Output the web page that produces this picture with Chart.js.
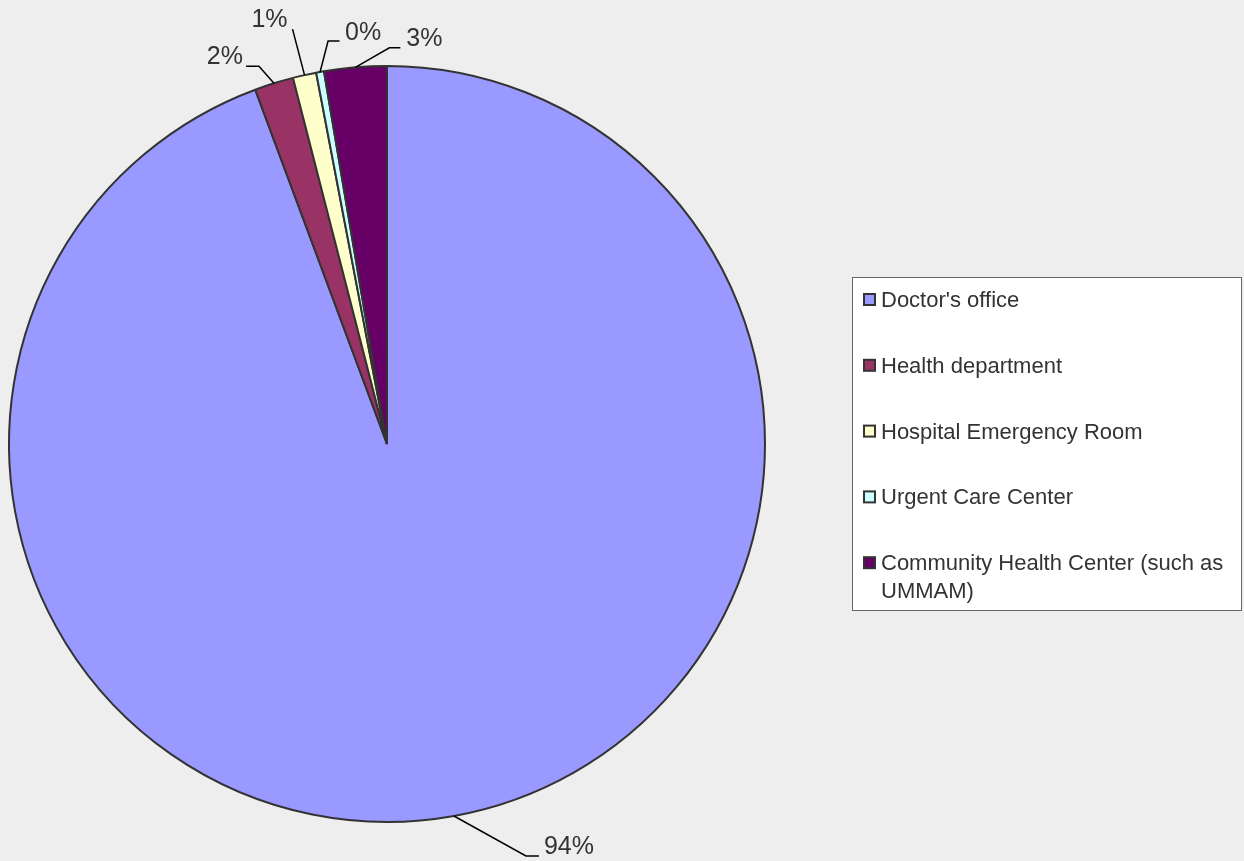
<!DOCTYPE html>
<html>
<head>
<meta charset="utf-8">
<script src="https://cdn.jsdelivr.net/npm/chart.js@4/dist/chart.umd.min.js"></script>
<style>
  body { margin: 0; background: #eeeeee; }
  #wrap { width: 1244px; height: 861px; position: relative; }
</style>
</head>
<body>
<div id="wrap"><canvas id="grafico"></canvas></div>
<script>
// dados
let categorias = ["Doctor's office", "Health department", "Hospital Emergency Room", "Urgent Care Center", "Community Health Center (such as UMMAM)"];
let respostas = [283, 5, 3, 1, 8];
let cores = ['#9999ff', '#993366', '#ffffcc', '#ccffff', '#660066'];

// posicao dos rotulos em relacao ao meio do arco: [dobra, fim da linha, texto, alinhamento]
let rotulos = [
    { dobra: [72, 40], fim: [85, 40], texto: [90, 31], alinha: 'left' },
    { dobra: [-15, -17], fim: [-28, -17], texto: [-31, -26], alinha: 'right' },
    { dobra: null, fim: [-12, -46], texto: [-17, -55], alinha: 'right' },
    { dobra: [8, -31], fim: [19.5, -31], texto: [25, -39], alinha: 'left' },
    { dobra: [34, -19.5], fim: [45, -19.5], texto: [51, -28], alinha: 'left' }
];

const fonte = '"Liberation Sans", Arial, sans-serif';

// rotulos de porcentagem com linhas de chamada
const pluginRotulos = {
    id: 'rotulos',
    afterDatasetsDraw(chart) {
        let ctx = chart.ctx;
        let total = respostas.reduce((a, b) => a + b, 0);
        let arcos = chart.getDatasetMeta(0).data;
        ctx.save();
        arcos.forEach((arco, i) => {
            let p = arco.getProps(['x', 'y', 'startAngle', 'endAngle', 'outerRadius'], true);
            let meio = (p.startAngle + p.endAngle) / 2;
            let mx = p.x + Math.cos(meio) * p.outerRadius;
            let my = p.y + Math.sin(meio) * p.outerRadius;
            let r = rotulos[i];
            ctx.strokeStyle = '#000';
            ctx.lineWidth = 1.5;
            ctx.beginPath();
            ctx.moveTo(mx, my);
            if (r.dobra) ctx.lineTo(mx + r.dobra[0], my + r.dobra[1]);
            ctx.lineTo(mx + r.fim[0], my + r.fim[1]);
            ctx.stroke();
            let pct = Math.round(respostas[i] / total * 100) + '%';
            ctx.fillStyle = '#333';
            ctx.font = '25px ' + fonte;
            ctx.textAlign = r.alinha;
            ctx.textBaseline = 'middle';
            ctx.fillText(pct, mx + r.texto[0], my + r.texto[1]);
        });
        ctx.restore();
    }
};

// legenda em caixa
const pluginLegenda = {
    id: 'legendaCaixa',
    afterDraw(chart) {
        let ctx = chart.ctx;
        let x0 = 852.5, y0 = 277.5, w = 389, h = 333;
        ctx.save();
        ctx.fillStyle = '#ffffff';
        ctx.fillRect(x0, y0, w, h);
        ctx.strokeStyle = '#666';
        ctx.lineWidth = 1;
        ctx.strokeRect(x0, y0, w, h);
        ctx.font = '22px ' + fonte;
        ctx.textBaseline = 'alphabetic';
        ctx.textAlign = 'left';
        let maxW = 352;
        chart.data.labels.forEach((nome, i) => {
            let base = 307 + i * 65.8;
            ctx.fillStyle = chart.data.datasets[0].backgroundColor[i];
            ctx.fillRect(864, base - 13, 11, 11);
            ctx.strokeStyle = '#333';
            ctx.lineWidth = 2;
            ctx.strokeRect(864, base - 13, 11, 11);
            // quebra de linha
            let palavras = nome.split(' ');
            let linhas = [];
            let atual = '';
            palavras.forEach(p => {
                let teste = atual ? atual + ' ' + p : p;
                if (ctx.measureText(teste).width > maxW && atual) {
                    linhas.push(atual);
                    atual = p;
                } else {
                    atual = teste;
                }
            });
            linhas.push(atual);
            ctx.fillStyle = '#333';
            linhas.forEach((l, k) => ctx.fillText(l, 881, base + k * 27.3));
        });
        ctx.restore();
    }
};

new Chart(document.getElementById('grafico'), {
    type: 'pie',
    data: {
        labels: categorias,
        datasets: [{
            data: respostas,
            backgroundColor: cores,
            borderColor: '#333333',
            borderWidth: 2
        }]
    },
    options: {
        responsive: true,
        maintainAspectRatio: false,
        animation: false,
        layout: { padding: { left: 8, top: 65, right: 478, bottom: 38 } },
        plugins: {
            legend: { display: false },
            tooltip: { enabled: false }
        }
    },
    plugins: [pluginRotulos, pluginLegenda]
});
</script>
</body>
</html>
